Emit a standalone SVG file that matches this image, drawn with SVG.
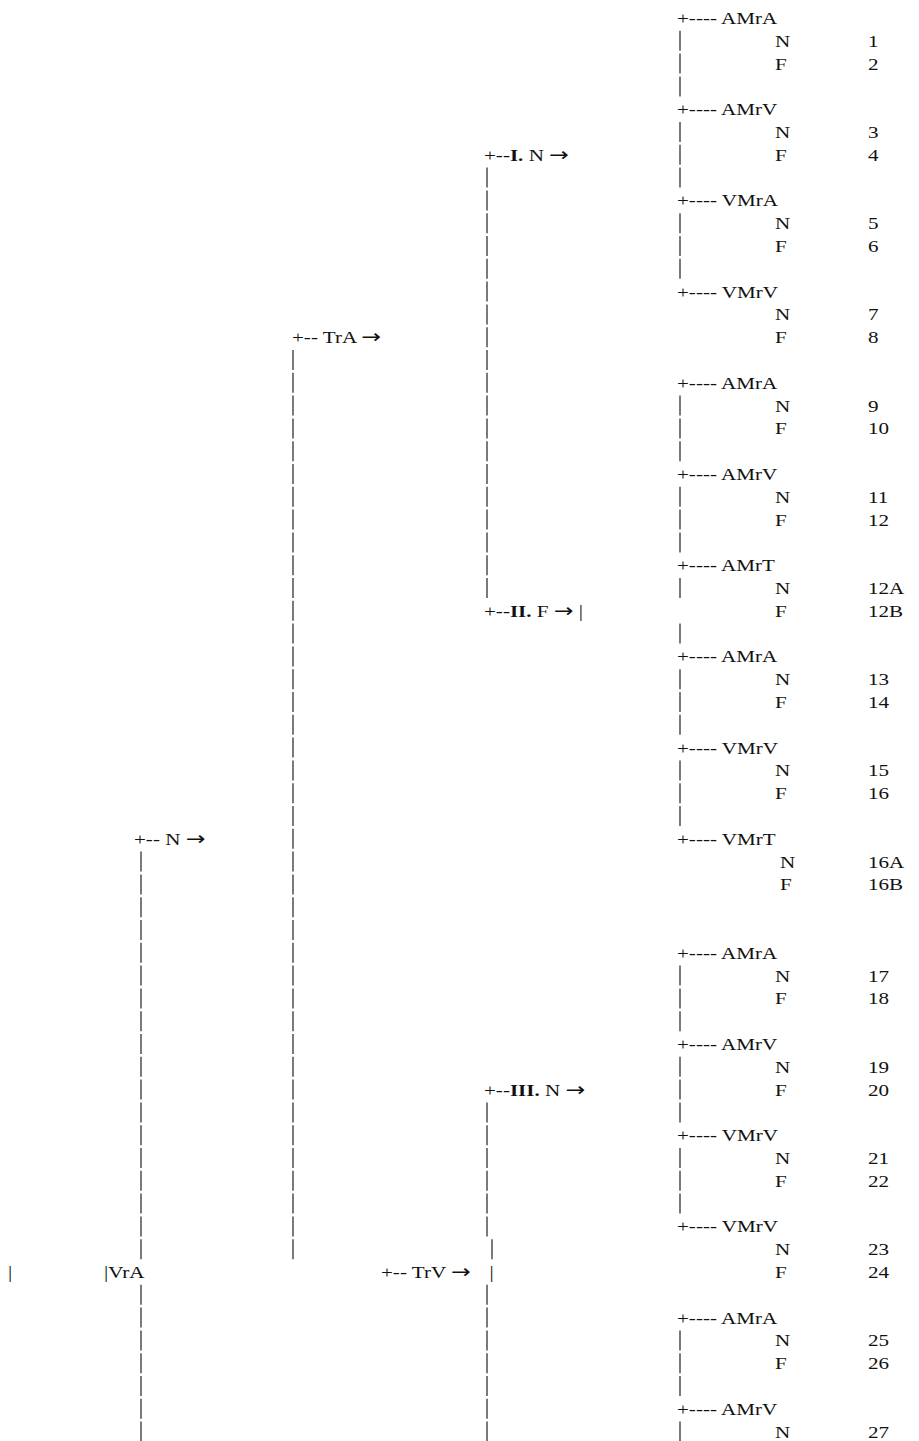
<svg xmlns="http://www.w3.org/2000/svg" width="919" height="1441" viewBox="0 0 919 1441">
<style>
text{font-family:"Liberation Serif","Times New Roman",serif;font-size:17px;fill:#111}
.b{font-weight:bold}
.a{font-family:"DejaVu Sans",sans-serif;font-size:19px}
#connectors line{stroke:#222;stroke-width:1.2;stroke-dasharray:20 2.8}
</style>
<rect width="919" height="1441" fill="#fff"/>
<g id="connectors">
<line x1="680" y1="30.8" x2="680" y2="96.4"/>
<line x1="680" y1="122" x2="680" y2="187.6"/>
<line x1="680" y1="213.2" x2="680" y2="278.8"/>
<line x1="680" y1="395.6" x2="680" y2="461.2"/>
<line x1="680" y1="486.8" x2="680" y2="552.4"/>
<line x1="680" y1="578" x2="680" y2="598"/>
<line x1="680" y1="623.6" x2="680" y2="643.6"/>
<line x1="680" y1="669.2" x2="680" y2="734.8"/>
<line x1="680" y1="760.4" x2="680" y2="826"/>
<line x1="680" y1="965.6" x2="680" y2="1031.2"/>
<line x1="680" y1="1056.8" x2="680" y2="1122.4"/>
<line x1="680" y1="1148" x2="680" y2="1213.6"/>
<line x1="680" y1="1330.4" x2="680" y2="1396"/>
<line x1="680" y1="1421.6" x2="680" y2="1441"/>
<line x1="487" y1="167.6" x2="487" y2="598"/>
<line x1="487" y1="1102.4" x2="487" y2="1236.4"/>
<line x1="492" y1="1239.2" x2="492" y2="1259.2"/>
<line x1="487" y1="1284.8" x2="487" y2="1441"/>
<line x1="293" y1="350" x2="293" y2="1259.2"/>
<line x1="141" y1="851.6" x2="141" y2="1259.2"/>
<line x1="141" y1="1284.8" x2="141" y2="1441"/>
</g>
<g id="n-TrA"><text transform="matrix(1.24 0 0 1 292 343.2)">+-- TrA <tspan class="a">→</tspan></text></g>
<g id="n-TrV"><text transform="matrix(1.24 0 0 1 381 1278)">+-- TrV <tspan class="a">→</tspan></text><text transform="matrix(1.24 0 0 1 489.5 1278)">|</text></g>
<g id="n-N"><text transform="matrix(1.24 0 0 1 134 844.8)">+-- N <tspan class="a">→</tspan></text></g>
<g id="n-VrA"><text transform="matrix(1.24 0 0 1 8 1278)">|</text><text transform="matrix(1.24 0 0 1 104 1278)">|VrA</text></g>
<g id="n-I"><text transform="matrix(1.24 0 0 1 484 160.8)">+--<tspan class="b">I.</tspan> N <tspan class="a">→</tspan></text></g>
<g id="n-II"><text transform="matrix(1.24 0 0 1 484 616.8)">+--<tspan class="b">II.</tspan> F <tspan class="a">→</tspan> |</text></g>
<g id="n-III"><text transform="matrix(1.24 0 0 1 484 1095.6)">+--<tspan class="b">III.</tspan> N <tspan class="a">→</tspan></text></g>
<g id="l1"><text transform="matrix(1.24 0 0 1 677 24)">+---- AMrA</text><text transform="matrix(1.24 0 0 1 775 46.8)">N</text><text transform="matrix(1.24 0 0 1 868 46.8)">1</text><text transform="matrix(1.24 0 0 1 775 69.6)">F</text><text transform="matrix(1.24 0 0 1 868 69.6)">2</text></g>
<g id="l2"><text transform="matrix(1.24 0 0 1 677 115.2)">+---- AMrV</text><text transform="matrix(1.24 0 0 1 775 138)">N</text><text transform="matrix(1.24 0 0 1 868 138)">3</text><text transform="matrix(1.24 0 0 1 775 160.8)">F</text><text transform="matrix(1.24 0 0 1 868 160.8)">4</text></g>
<g id="l3"><text transform="matrix(1.24 0 0 1 677 206.4)">+---- VMrA</text><text transform="matrix(1.24 0 0 1 775 229.2)">N</text><text transform="matrix(1.24 0 0 1 868 229.2)">5</text><text transform="matrix(1.24 0 0 1 775 252)">F</text><text transform="matrix(1.24 0 0 1 868 252)">6</text></g>
<g id="l4"><text transform="matrix(1.24 0 0 1 677 297.6)">+---- VMrV</text><text transform="matrix(1.24 0 0 1 775 320.4)">N</text><text transform="matrix(1.24 0 0 1 868 320.4)">7</text><text transform="matrix(1.24 0 0 1 775 343.2)">F</text><text transform="matrix(1.24 0 0 1 868 343.2)">8</text></g>
<g id="l5"><text transform="matrix(1.24 0 0 1 677 388.8)">+---- AMrA</text><text transform="matrix(1.24 0 0 1 775 411.6)">N</text><text transform="matrix(1.24 0 0 1 868 411.6)">9</text><text transform="matrix(1.24 0 0 1 775 434.4)">F</text><text transform="matrix(1.24 0 0 1 868 434.4)">10</text></g>
<g id="l6"><text transform="matrix(1.24 0 0 1 677 480)">+---- AMrV</text><text transform="matrix(1.24 0 0 1 775 502.8)">N</text><text transform="matrix(1.24 0 0 1 868 502.8)">11</text><text transform="matrix(1.24 0 0 1 775 525.6)">F</text><text transform="matrix(1.24 0 0 1 868 525.6)">12</text></g>
<g id="l7"><text transform="matrix(1.24 0 0 1 677 571.2)">+---- AMrT</text><text transform="matrix(1.24 0 0 1 775 594)">N</text><text transform="matrix(1.24 0 0 1 868 594)">12A</text><text transform="matrix(1.24 0 0 1 775 616.8)">F</text><text transform="matrix(1.24 0 0 1 868 616.8)">12B</text></g>
<g id="l8"><text transform="matrix(1.24 0 0 1 677 662.4)">+---- AMrA</text><text transform="matrix(1.24 0 0 1 775 685.2)">N</text><text transform="matrix(1.24 0 0 1 868 685.2)">13</text><text transform="matrix(1.24 0 0 1 775 708)">F</text><text transform="matrix(1.24 0 0 1 868 708)">14</text></g>
<g id="l9"><text transform="matrix(1.24 0 0 1 677 753.6)">+---- VMrV</text><text transform="matrix(1.24 0 0 1 775 776.4)">N</text><text transform="matrix(1.24 0 0 1 868 776.4)">15</text><text transform="matrix(1.24 0 0 1 775 799.2)">F</text><text transform="matrix(1.24 0 0 1 868 799.2)">16</text></g>
<g id="l10"><text transform="matrix(1.24 0 0 1 677 844.8)">+---- VMrT</text><text transform="matrix(1.24 0 0 1 780 867.6)">N</text><text transform="matrix(1.24 0 0 1 868 867.6)">16A</text><text transform="matrix(1.24 0 0 1 780 890.4)">F</text><text transform="matrix(1.24 0 0 1 868 890.4)">16B</text></g>
<g id="l11"><text transform="matrix(1.24 0 0 1 677 958.8)">+---- AMrA</text><text transform="matrix(1.24 0 0 1 775 981.6)">N</text><text transform="matrix(1.24 0 0 1 868 981.6)">17</text><text transform="matrix(1.24 0 0 1 775 1004.4)">F</text><text transform="matrix(1.24 0 0 1 868 1004.4)">18</text></g>
<g id="l12"><text transform="matrix(1.24 0 0 1 677 1050)">+---- AMrV</text><text transform="matrix(1.24 0 0 1 775 1072.8)">N</text><text transform="matrix(1.24 0 0 1 868 1072.8)">19</text><text transform="matrix(1.24 0 0 1 775 1095.6)">F</text><text transform="matrix(1.24 0 0 1 868 1095.6)">20</text></g>
<g id="l13"><text transform="matrix(1.24 0 0 1 677 1141.2)">+---- VMrV</text><text transform="matrix(1.24 0 0 1 775 1164)">N</text><text transform="matrix(1.24 0 0 1 868 1164)">21</text><text transform="matrix(1.24 0 0 1 775 1186.8)">F</text><text transform="matrix(1.24 0 0 1 868 1186.8)">22</text></g>
<g id="l14"><text transform="matrix(1.24 0 0 1 677 1232.4)">+---- VMrV</text><text transform="matrix(1.24 0 0 1 775 1255.2)">N</text><text transform="matrix(1.24 0 0 1 868 1255.2)">23</text><text transform="matrix(1.24 0 0 1 775 1278)">F</text><text transform="matrix(1.24 0 0 1 868 1278)">24</text></g>
<g id="l15"><text transform="matrix(1.24 0 0 1 677 1323.6)">+---- AMrA</text><text transform="matrix(1.24 0 0 1 775 1346.4)">N</text><text transform="matrix(1.24 0 0 1 868 1346.4)">25</text><text transform="matrix(1.24 0 0 1 775 1369.2)">F</text><text transform="matrix(1.24 0 0 1 868 1369.2)">26</text></g>
<g id="l16"><text transform="matrix(1.24 0 0 1 677 1414.8)">+---- AMrV</text><text transform="matrix(1.24 0 0 1 775 1437.6)">N</text><text transform="matrix(1.24 0 0 1 868 1437.6)">27</text></g>
</svg>
